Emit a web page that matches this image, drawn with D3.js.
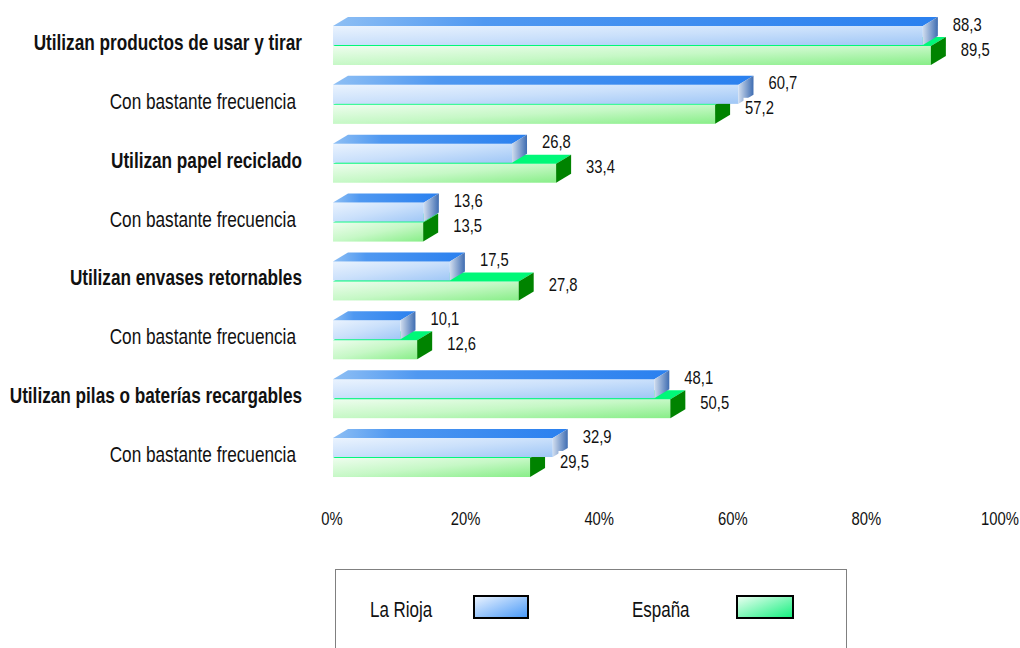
<!DOCTYPE html>
<html><head><meta charset="utf-8">
<script src="https://cdn.jsdelivr.net/npm/d3@7"></script>
<style>
html,body{margin:0;padding:0;background:#fff;}
svg{display:block;}
text{font-family:"Liberation Sans",Arial,sans-serif;fill:#111;}
</style></head>
<body>
<svg id="chart" width="1020" height="648"></svg>
<script>
const categories = [
  "Utilizan productos de usar y tirar",
  "Con bastante frecuencia",
  "Utilizan papel reciclado",
  "Con bastante frecuencia",
  "Utilizan envases retornables",
  "Con bastante frecuencia",
  "Utilizan pilas o baterías recargables",
  "Con bastante frecuencia"
];
const mainCategory = [true,false,true,false,true,false,true,false];
const seriesNames = ["La Rioja","España"];
const laRioja = [88.3, 60.7, 26.8, 13.6, 17.5, 10.1, 48.1, 32.9];
const espana  = [89.5, 57.2, 33.4, 13.5, 27.8, 12.6, 50.5, 29.5];
const tickValues = [0,20,40,60,80,100];

const svg = d3.select("#chart");
const defs = svg.append("defs");
function grad(id, stops, x2, y2){
  const g = defs.append("linearGradient").attr("id",id)
    .attr("x1",0).attr("y1",0).attr("x2",x2).attr("y2",y2);
  stops.forEach(s=>g.append("stop").attr("offset",s[0]).attr("stop-color",s[1]));
}
grad("bFront",[[0,"#eaf3fe"],[0.5,"#cae0fb"],[1,"#a0c7f6"]],1,1);
grad("bTop",[[0,"#8ebff4"],[0.25,"#4f98f1"],[1,"#2a80ef"]],1,0);
grad("bSide",[[0,"#cfdcee"],[1,"#3f6db2"]],1,0);
grad("gFront",[[0,"#eefdee"],[0.5,"#c6f8c6"],[1,"#88ee88"]],1,1);
grad("lgB",[[0,"#eef5ff"],[1,"#4597f7"]],1,1);
grad("lgG",[[0,"#f0fff4"],[1,"#0ff07c"]],1,1);

const x = d3.scaleLinear().domain([0,100]).range([333,1001]);
const y = d3.scaleBand().domain(d3.range(categories.length)).range([16.07,486.95]).paddingInner(0).paddingOuter(0);
const DX = 15, DY = 9, H = 19;

const series = [
  {name:"España", values:espana, off:0.5, front:"url(#gFront)", top:"#00f878", side:"#008300"},
  {name:"La Rioja", values:laRioja, off:-19.5, front:"url(#bFront)", top:"url(#bTop)", side:"url(#bSide)"}
];

const bars = svg.append("g");
categories.forEach((c,i)=>{
  const cy = y(i) + y.bandwidth()/2;
  series.forEach(s=>{
    const x0 = x(0), x1 = x(s.values[i]);
    const t = cy + s.off, b = t + H;
    const g = bars.append("g");
    g.append("rect").attr("x",x0).attr("y",t).attr("width",x1-x0).attr("height",H).attr("fill",s.front);
    g.append("path").attr("d",`M${x0},${t}L${x0+DX},${t-DY}L${x1+DX},${t-DY}L${x1},${t}Z`).attr("fill",s.top);
    g.append("path").attr("d",`M${x1},${t}L${x1+DX},${t-DY}L${x1+DX},${b-DY}L${x1},${b}Z`).attr("fill",s.side);
  });
});

function stext(parent, tx, ty, str, size, sx, anchor, weight){
  const g = parent.append("g").attr("transform",`translate(${tx},${ty}) scale(${sx},1)`);
  const t = g.append("text").attr("x",0).attr("y",0).attr("text-anchor",anchor)
    .style("font-size",size+"px").style("font-weight",weight||"normal").text(str);
  return {g,t};
}

// value labels
const fmt = v => d3.format(".1f")(v).replace(".",",");
const labels = svg.append("g");
categories.forEach((c,i)=>{
  const cy = y(i) + y.bandwidth()/2;
  [[laRioja,-15],[espana,10]].forEach(([vals,dy])=>{
    const lx = x(vals[i]) + 30;
    const o = stext(labels, lx, cy+dy, fmt(vals[i]), 18.5, 0.8, "start");
    const bb = o.t.node().getBBox();
    o.g.insert("rect","text").attr("x",bb.x-2).attr("y",bb.y).attr("width",bb.width+4).attr("height",bb.height+1).attr("fill","#fff");
  });
});

// category labels
const cats = svg.append("g");
categories.forEach((c,i)=>{
  const cy = y(i) + y.bandwidth()/2;
  const bold = mainCategory[i];
  stext(cats, bold ? 302 : 296, cy+4.5, c, 21.5, 0.80, "end", bold ? "bold" : "normal");
});

// x axis (tick labels only)
const axis = svg.append("g");
tickValues.forEach(v=>{
  stext(axis, x(v)-1, 525, v+"%", 18.5, 0.8, "middle");
});

// legend
const lg = svg.append("g");
lg.append("rect").attr("x",335.5).attr("y",569.5).attr("width",511).attr("height",100)
  .attr("fill","#fff").attr("stroke","#808080").attr("stroke-width",1);
stext(lg, 370, 617, seriesNames[0], 21.5, 0.79, "start");
lg.append("rect").attr("x",474).attr("y",596).attr("width",54).attr("height",22)
  .attr("fill","url(#lgB)").attr("stroke","#000").attr("stroke-width",2);
stext(lg, 632, 617, seriesNames[1], 21.5, 0.79, "start");
lg.append("rect").attr("x",737).attr("y",596).attr("width",56).attr("height",22)
  .attr("fill","url(#lgG)").attr("stroke","#000").attr("stroke-width",2);
</script>
</body></html>
